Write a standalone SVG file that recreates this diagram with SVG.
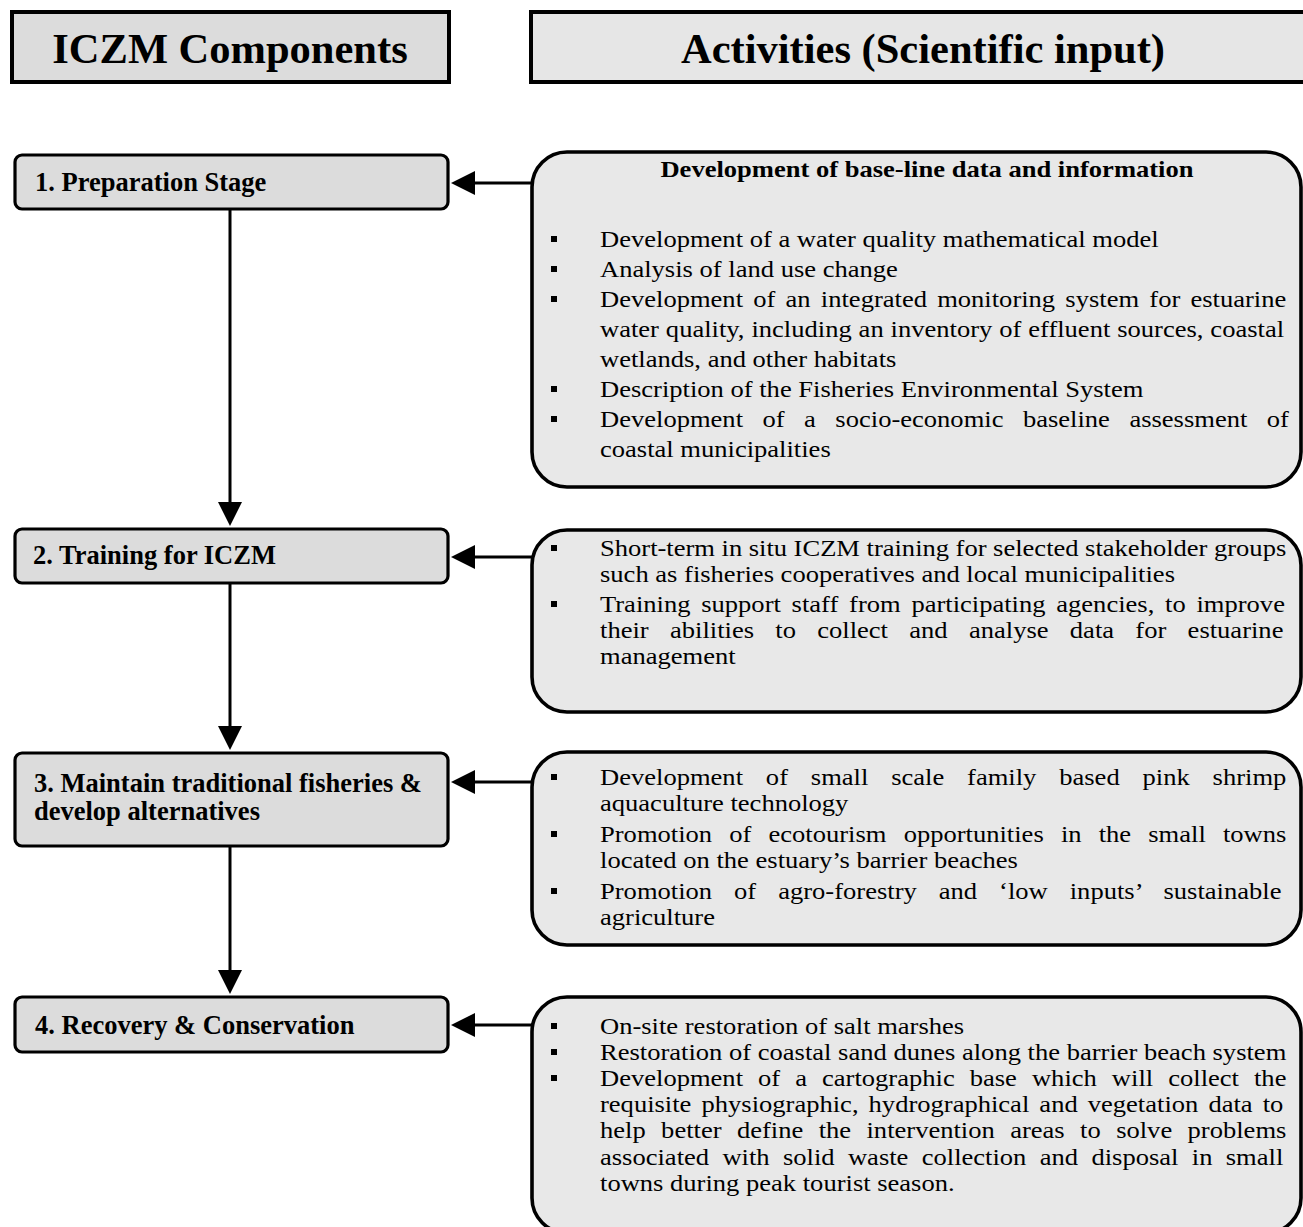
<svg xmlns="http://www.w3.org/2000/svg" width="1303" height="1227" viewBox="0 0 1303 1227">
  <style>
    .hbox { stroke: #000; stroke-width: 4; }
    .node rect { fill: #dcdcdc; stroke: #000; stroke-width: 3.2; }
    .act rect.box { fill: #e8e8e8; stroke: #000; stroke-width: 3.6; }
    .hdr { font-family: "Liberation Serif", "Times New Roman", serif; font-weight: bold; font-size: 42.5px; text-anchor: middle; fill: #000; }
    .lbl { font-family: "Liberation Serif", "Times New Roman", serif; font-weight: bold; font-size: 26.5px; fill: #000; }
    .body { font-family: "Liberation Serif", "Times New Roman", serif; font-size: 23px; fill: #000; }
    .ttl { font-weight: bold; text-anchor: middle; }
    .bul { fill: #000; }
    .conn line { stroke: #000; stroke-width: 3; fill: none; }
  </style>
  <defs>
    <marker id="head" markerUnits="userSpaceOnUse" markerWidth="24" markerHeight="24" refX="0" refY="12" orient="auto" viewBox="0 0 24 24">
      <path d="M0,0 L24,12 L0,24 Z" fill="#000"/>
    </marker>
  </defs>
  <rect width="1303" height="1227" fill="#fff"/>

  <!-- column headings -->
  <g id="head-components">
    <rect class="hbox" x="12" y="12" width="437" height="70" fill="#dcdcdc"/>
    <text class="hdr" x="230" y="63">ICZM Components</text>
  </g>
  <g id="head-activities">
    <rect class="hbox" x="531" y="12" width="790" height="70" fill="#e6e6e6"/>
    <text class="hdr" x="923" y="63">Activities (Scientific input)</text>
  </g>

  <!-- ICZM components -->
  <g id="n1" class="node">
    <rect x="15" y="155" width="433" height="54" rx="7"/>
    <text class="lbl" x="35" y="191">1. Preparation Stage</text>
  </g>
  <g id="n2" class="node">
    <rect x="15" y="529" width="433" height="54" rx="7"/>
    <text class="lbl" x="33" y="564">2. Training for ICZM</text>
  </g>
  <g id="n3" class="node">
    <rect x="15" y="753" width="433" height="93" rx="7"/>
    <text class="lbl" x="34" y="792">3. Maintain traditional fisheries &amp;</text>
    <text class="lbl" x="34" y="820">develop alternatives</text>
  </g>
  <g id="n4" class="node">
    <rect x="15" y="997" width="433" height="55" rx="7"/>
    <text class="lbl" x="35" y="1034">4. Recovery &amp; Conservation</text>
  </g>

  <!-- activities -->
  <g id="a1" class="act">
    <rect class="box" x="532" y="152" width="769" height="335" rx="35"/>
    <rect class="bul" x="551" y="236" width="6" height="6"/>
    <rect class="bul" x="551" y="266" width="6" height="6"/>
    <rect class="bul" x="551" y="296" width="6" height="6"/>
    <rect class="bul" x="551" y="386" width="6" height="6"/>
    <rect class="bul" x="551" y="416" width="6" height="6"/>
    <g class="body" transform="translate(600 0) scale(1.155 1)">
      <text class="ttl" x="283.1" y="177">Development of base-line data and information</text>
      <text x="0" y="247">Development of a water quality mathematical model</text>
      <text x="0" y="277">Analysis of land use change</text>
      <text x="0" y="307" word-spacing="3.1">Development of an integrated monitoring system for estuarine</text>
      <text x="0" y="337" word-spacing="0.24">water quality, including an inventory of effluent sources, coastal</text>
      <text x="0" y="367">wetlands, and other habitats</text>
      <text x="0" y="397">Description of the Fisheries Environmental System</text>
      <text x="0" y="427" word-spacing="11.13">Development of a socio-economic baseline assessment of</text>
      <text x="0" y="457">coastal municipalities</text>
    </g>
  </g>

  <g id="a2" class="act">
    <rect class="box" x="532" y="530" width="769" height="182" rx="35"/>
    <rect class="bul" x="551" y="545" width="6" height="6"/>
    <rect class="bul" x="551" y="601" width="6" height="6"/>
    <g class="body" transform="translate(600 0) scale(1.155 1)">
      <text x="0" y="556" word-spacing="-0.09">Short-term in situ ICZM training for selected stakeholder groups</text>
      <text x="0" y="582">such as fisheries cooperatives and local municipalities</text>
      <text x="0" y="612" word-spacing="3.56">Training support staff from participating agencies, to improve</text>
      <text x="0" y="638" word-spacing="12.7">their abilities to collect and analyse data for estuarine</text>
      <text x="0" y="664">management</text>
    </g>
  </g>

  <g id="a3" class="act">
    <rect class="box" x="532" y="752" width="769" height="193" rx="35"/>
    <rect class="bul" x="551" y="774" width="6" height="6"/>
    <rect class="bul" x="551" y="831" width="6" height="6"/>
    <rect class="bul" x="551" y="888" width="6" height="6"/>
    <g class="body" transform="translate(600 0) scale(1.155 1)">
      <text x="0" y="785" word-spacing="14.04">Development of small scale family based pink shrimp</text>
      <text x="0" y="811">aquaculture technology</text>
      <text x="0" y="842" word-spacing="9.11">Promotion of ecotourism opportunities in the small towns</text>
      <text x="0" y="868">located on the estuary’s barrier beaches</text>
      <text x="0" y="899" word-spacing="13.3">Promotion of agro-forestry and ‘low inputs’ sustainable</text>
      <text x="0" y="925">agriculture</text>
    </g>
  </g>

  <g id="a4" class="act">
    <rect class="box" x="532" y="997" width="769" height="236" rx="35"/>
    <rect class="bul" x="551" y="1023" width="6" height="6"/>
    <rect class="bul" x="551" y="1049" width="6" height="6"/>
    <rect class="bul" x="551" y="1075" width="6" height="6"/>
    <g class="body" transform="translate(600 0) scale(1.155 1)">
      <text x="0" y="1034">On-site restoration of salt marshes</text>
      <text x="0" y="1060">Restoration of coastal sand dunes along the barrier beach system</text>
      <text x="0" y="1086" word-spacing="7.28">Development of a cartographic base which will collect the</text>
      <text x="0" y="1112" word-spacing="2.98">requisite physiographic, hydrographical and vegetation data to</text>
      <text x="0" y="1138" word-spacing="7.59">help better define the intervention areas to solve problems</text>
      <text x="0" y="1165" word-spacing="5.81">associated with solid waste collection and disposal in small</text>
      <text x="0" y="1191">towns during peak tourist season.</text>
    </g>
  </g>

  <!-- connectors -->
  <g id="connectors" class="conn">
    <line x1="230" y1="209" x2="230" y2="502" marker-end="url(#head)"/>
    <line x1="230" y1="583" x2="230" y2="726" marker-end="url(#head)"/>
    <line x1="230" y1="846" x2="230" y2="970" marker-end="url(#head)"/>
    <line x1="532" y1="183" x2="475" y2="183" marker-end="url(#head)"/>
    <line x1="532" y1="557" x2="475" y2="557" marker-end="url(#head)"/>
    <line x1="532" y1="782" x2="475" y2="782" marker-end="url(#head)"/>
    <line x1="532" y1="1025" x2="475" y2="1025" marker-end="url(#head)"/>
  </g>
</svg>
